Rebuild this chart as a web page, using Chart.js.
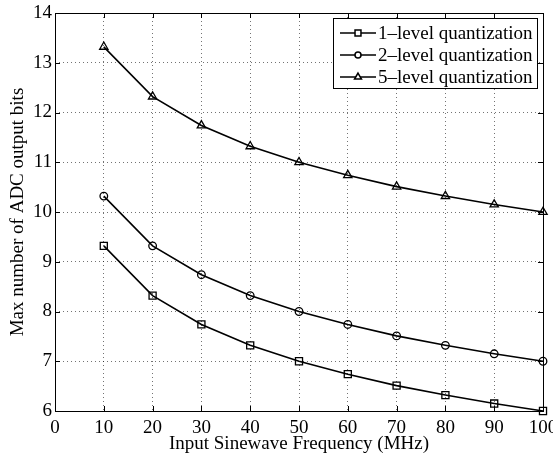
<!DOCTYPE html>
<html>
<head>
<meta charset="utf-8">
<script src="https://cdn.jsdelivr.net/npm/chart.js@4.4.0/dist/chart.umd.min.js"></script>
<style>
  html, body { margin: 0; padding: 0; background: #fff; }
  #wrap { width: 553px; height: 457px; }
</style>
</head>
<body>
<div id="wrap"><canvas id="bitsChart"></canvas></div>
<script>
// data
const freqs  = [10, 20, 30, 40, 50, 60, 70, 80, 90, 100];
const level1 = [9.32, 8.32, 7.74, 7.32, 7.0, 6.74, 6.51, 6.32, 6.15, 6.0];
const level2 = [10.32, 9.32, 8.74, 8.32, 8.0, 7.74, 7.51, 7.32, 7.15, 7.0];
const level5 = [13.32, 12.32, 11.74, 11.32, 11.0, 10.74, 10.51, 10.32, 10.15, 10.0];
const seriesNames = ['1\u2013level quantization', '2\u2013level quantization', '5\u2013level quantization'];
const xTitle = 'Input Sinewave Frequency (MHz)';
const yTitle = 'Max number of ADC output bits';

const FONT = "'Liberation Serif', 'DejaVu Serif', serif";
Chart.defaults.font.family = FONT;
Chart.defaults.font.size = 19;
Chart.defaults.color = '#000';

const pts = vals => vals.map((v, i) => ({ x: freqs[i], y: v }));
const styles = [
  { pointStyle: 'rect', radius: 5 },
  { pointStyle: 'circle', radius: 3.8 },
  { pointStyle: 'triangle', radius: 4.8 },
];

// box, inward ticks, axis titles and legend, matlab style
const framePlugin = {
  id: 'frame',
  afterDraw(chart) {
    const { ctx, chartArea: a, scales } = chart;
    ctx.save();
    ctx.strokeStyle = '#000';
    ctx.lineWidth = 1;
    ctx.strokeRect(a.left + 0.5, a.top + 0.5, a.right - a.left, a.bottom - a.top);
    const tl = 5;
    ctx.beginPath();
    scales.x.ticks.forEach(t => {
      const px = Math.round(scales.x.getPixelForValue(t.value)) + 0.5;
      ctx.moveTo(px, a.bottom); ctx.lineTo(px, a.bottom - tl);
      ctx.moveTo(px, a.top); ctx.lineTo(px, a.top + tl);
    });
    scales.y.ticks.forEach(t => {
      const py = Math.round(scales.y.getPixelForValue(t.value)) + 0.5;
      ctx.moveTo(a.left, py); ctx.lineTo(a.left + tl, py);
      ctx.moveTo(a.right, py); ctx.lineTo(a.right - tl, py);
    });
    ctx.stroke();

    // axis titles
    ctx.fillStyle = '#000';
    ctx.font = '19px ' + FONT;
    ctx.textAlign = 'center';
    ctx.textBaseline = 'middle';
    ctx.fillText(xTitle, (a.left + a.right) / 2, 444);
    ctx.save();
    ctx.translate(18, (a.top + a.bottom) / 2);
    ctx.rotate(-Math.PI / 2);
    ctx.fillText(yTitle, 0, 0);
    ctx.restore();

    // legend
    const lx = 333, ly = 18, lw = 204, lh = 70;
    ctx.fillStyle = '#fff';
    ctx.fillRect(lx, ly, lw, lh);
    ctx.strokeRect(lx + 0.5, ly + 0.5, lw, lh);
    ctx.textAlign = 'left';
    seriesNames.forEach((name, i) => {
      const y = ly + 15 + i * 22;
      ctx.beginPath();
      ctx.lineWidth = 1.5;
      ctx.moveTo(340, y); ctx.lineTo(376, y);
      ctx.stroke();
      ctx.fillStyle = '#fff';
      Chart.helpers.drawPoint(ctx, {
        pointStyle: styles[i].pointStyle, radius: styles[i].radius - 0.8, rotation: 0, borderWidth: 1.3
      }, 358, y);
      ctx.fillStyle = '#000';
      ctx.fillText(name, 378, y + 1);
    });
    ctx.restore();
  }
};

new Chart(document.getElementById('bitsChart'), {
  type: 'line',
  data: {
    datasets: [level1, level2, level5].map((vals, i) => ({
      label: seriesNames[i],
      data: pts(vals),
      borderColor: '#000',
      borderWidth: 1.6,
      pointStyle: styles[i].pointStyle,
      pointRadius: styles[i].radius,
      pointBackgroundColor: 'rgba(0,0,0,0)',
      pointBorderColor: '#000',
      pointBorderWidth: 1.3,
      tension: 0,
      clip: false,
    }))
  },
  options: {
    responsive: true,
    maintainAspectRatio: false,
    animation: false,
    layout: { padding: { top: 13, right: 10, left: 0, bottom: 0 } },
    plugins: { legend: { display: false }, tooltip: { enabled: false } },
    scales: {
      x: {
        type: 'linear', min: 0, max: 100,
        ticks: { stepSize: 10, maxRotation: 0, autoSkip: false, padding: 6 },
        grid: { color: 'rgba(0,0,0,0.55)', drawTicks: false, lineWidth: 1 },
        border: { display: false, dash: [1, 3] },
        // keep the last label hanging past the edge instead of shrinking the plot
        afterFit: s => { s.height = 46; s.paddingLeft = 0; s.paddingRight = 0; }
      },
      y: {
        min: 6, max: 14,
        ticks: { stepSize: 1, padding: 3 },
        grid: { color: 'rgba(0,0,0,0.55)', drawTicks: false, lineWidth: 1 },
        border: { display: false, dash: [1, 3] },
        afterFit: s => { s.width = 55; s.paddingTop = 0; s.paddingBottom = 0; }
      }
    }
  },
  plugins: [framePlugin]
});
</script>
</body>
</html>
